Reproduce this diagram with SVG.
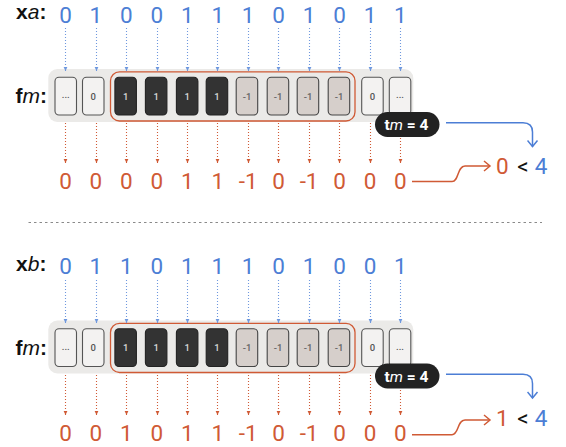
<svg xmlns="http://www.w3.org/2000/svg" width="566" height="447" viewBox="0 0 566 447">
<style>
.lbl{font-family:"Liberation Sans",Arial,sans-serif;font-size:21px;fill:#111}
.b{font-weight:bold}
.i{font-style:italic;font-weight:normal}
.dig{font-family:Roboto,"Liberation Sans",sans-serif;font-size:22.5px;text-anchor:middle}
.blue{fill:#4c7ed5}
.red{fill:#d05a35}
.blk{fill:#111}
.panel{fill:#ebeae8}
.box{fill:none;stroke:#d05a35;stroke-width:1.3}
.cl{fill:#f3f2f1;stroke:#555;stroke-width:1.1}
.cd{fill:#333;stroke:#222;stroke-width:1.1}
.cn{fill:#d6cfcb;stroke:#444;stroke-width:1.1}
.ct{font-family:Roboto,"Liberation Sans",sans-serif;font-size:9.5px;text-anchor:middle;font-weight:500}
.tl{fill:#555}
.tw{fill:#d8d8d8}
.tn{fill:#666}
.bl{stroke:#6f98de;stroke-width:1.1;stroke-dasharray:1 2;fill:none}
.rl{stroke:#d05a35;stroke-width:1.1;stroke-dasharray:1 2;fill:none}
.sep{stroke:#8a8a8a;stroke-dasharray:2.5 3;stroke-width:1}
.pill{fill:#222}
.pt{font-family:Roboto,"Liberation Sans",sans-serif;font-size:15.5px;fill:#fff;font-weight:bold}
.conb{stroke:#4c7ed5;stroke-width:1.5;fill:none}
.conr{stroke:#d05a35;stroke-width:1.5;fill:none}
</style>
<defs>
<marker id="ab" markerWidth="5" markerHeight="5" refX="4" refY="2.5" orient="auto" markerUnits="userSpaceOnUse"><path d="M0,0.6 L4,2.5 L0,4.4z" fill="#6f98de"/></marker>
<marker id="ar" markerWidth="5" markerHeight="5" refX="4" refY="2.5" orient="auto" markerUnits="userSpaceOnUse"><path d="M0,0.6 L4,2.5 L0,4.4z" fill="#d05a35"/></marker>
<marker id="cb" markerWidth="12" markerHeight="12" refX="9" refY="6" orient="auto" markerUnits="userSpaceOnUse"><path d="M3,1 L9,6 L3,11" fill="none" stroke="#4c7ed5" stroke-width="1.5"/></marker>
<marker id="cr" markerWidth="12" markerHeight="12" refX="9" refY="6" orient="auto" markerUnits="userSpaceOnUse"><path d="M3,1 L9,6 L3,11" fill="none" stroke="#d05a35" stroke-width="1.5"/></marker>
<g id="cells">
<rect x="48.3" y="69" width="365" height="53" rx="9" class="panel"/>
<rect x="110.5" y="71.8" width="244.5" height="49.2" rx="9" class="box"/>
<rect x="55" y="77.3" width="21.5" height="37.7" rx="4" class="cl"/><text x="65.8" y="98" class="ct tl">...</text>
<rect x="82.5" y="77.3" width="21.5" height="37.7" rx="4" class="cl"/><text x="93.3" y="99.5" class="ct tl">0</text>
<rect x="114.9" y="77.3" width="21.5" height="37.7" rx="4" class="cd"/><text x="125.7" y="99.5" class="ct tw">1</text>
<rect x="145.4" y="77.3" width="21.5" height="37.7" rx="4" class="cd"/><text x="156.2" y="99.5" class="ct tw">1</text>
<rect x="176.4" y="77.3" width="21.5" height="37.7" rx="4" class="cd"/><text x="187.2" y="99.5" class="ct tw">1</text>
<rect x="206.2" y="77.3" width="21.5" height="37.7" rx="4" class="cd"/><text x="217" y="99.5" class="ct tw">1</text>
<rect x="236.2" y="77.3" width="21.5" height="37.7" rx="4" class="cn"/><text x="247" y="99.5" class="ct tn">-1</text>
<rect x="267.2" y="77.3" width="21.5" height="37.7" rx="4" class="cn"/><text x="278" y="99.5" class="ct tn">-1</text>
<rect x="297.2" y="77.3" width="21.5" height="37.7" rx="4" class="cn"/><text x="308" y="99.5" class="ct tn">-1</text>
<rect x="328.2" y="77.3" width="21.5" height="37.7" rx="4" class="cn"/><text x="339" y="99.5" class="ct tn">-1</text>
<rect x="361.7" y="77.3" width="21.5" height="37.7" rx="4" class="cl"/><text x="372.5" y="99.5" class="ct tl">0</text>
<rect x="389.3" y="77.3" width="21.5" height="37.7" rx="4" class="cl"/><text x="400" y="98" class="ct tl">...</text>
</g>
<g id="vlines">
<path class="bl" marker-end="url(#ab)" d="M65.5,28V71"/><path class="bl" marker-end="url(#ab)" d="M96.5,28V71"/><path class="bl" marker-end="url(#ab)" d="M126.5,28V71"/><path class="bl" marker-end="url(#ab)" d="M157.5,28V71"/><path class="bl" marker-end="url(#ab)" d="M187.5,28V71"/><path class="bl" marker-end="url(#ab)" d="M217.5,28V71"/><path class="bl" marker-end="url(#ab)" d="M248.5,28V71"/><path class="bl" marker-end="url(#ab)" d="M278.5,28V71"/><path class="bl" marker-end="url(#ab)" d="M309.5,28V71"/><path class="bl" marker-end="url(#ab)" d="M339.5,28V71"/><path class="bl" marker-end="url(#ab)" d="M370.5,28V71"/><path class="bl" marker-end="url(#ab)" d="M400.5,28V71"/>
<path class="rl" marker-end="url(#ar)" d="M65.5,123V163"/><path class="rl" marker-end="url(#ar)" d="M96.5,123V163"/><path class="rl" marker-end="url(#ar)" d="M126.5,123V163"/><path class="rl" marker-end="url(#ar)" d="M157.5,123V163"/><path class="rl" marker-end="url(#ar)" d="M187.5,123V163"/><path class="rl" marker-end="url(#ar)" d="M217.5,123V163"/><path class="rl" marker-end="url(#ar)" d="M248.5,123V163"/><path class="rl" marker-end="url(#ar)" d="M278.5,123V163"/><path class="rl" marker-end="url(#ar)" d="M309.5,123V163"/><path class="rl" marker-end="url(#ar)" d="M339.5,123V163"/><path class="rl" marker-end="url(#ar)" d="M370.5,123V163"/><path class="rl" marker-end="url(#ar)" d="M400.5,123V163"/>
</g>
</defs>

<g id="half-a">
  <g id="label-xa"><text x="16" y="19" class="lbl"><tspan class="b">x</tspan><tspan class="i">a</tspan><tspan class="b">:</tspan></text></g>
  <g id="xa-values" class="dig blue">
    <text x="65.5" y="22.7">0</text><text x="95.95" y="22.7">1</text><text x="126.4" y="22.7">0</text><text x="156.85" y="22.7">0</text><text x="187.3" y="22.7">1</text><text x="217.75" y="22.7">1</text><text x="248.2" y="22.7">1</text><text x="278.65" y="22.7">0</text><text x="309.1" y="22.7">1</text><text x="339.55" y="22.7">0</text><text x="370" y="22.7">1</text><text x="400.45" y="22.7">1</text>
  </g>
  <g id="label-fm-a"><text x="15.5" y="103.3" class="lbl"><tspan class="b">f</tspan><tspan class="i">m</tspan><tspan class="b">:</tspan></text></g>
  <g id="fm-a"><use href="#cells"/></g>
  <g id="out-a" class="dig red">
    <text x="65.5" y="189.3">0</text><text x="95.95" y="189.3">0</text><text x="126.4" y="189.3">0</text><text x="156.85" y="189.3">0</text><text x="187.3" y="189.3">1</text><text x="217.75" y="189.3">1</text><text x="248.2" y="189.3">-1</text><text x="278.65" y="189.3">0</text><text x="309.1" y="189.3">-1</text><text x="339.55" y="189.3">0</text><text x="370" y="189.3">0</text><text x="400.45" y="189.3">0</text>
  </g>
  <g id="cmp-a" class="dig"><text x="502.4" y="174" class="red">0</text><text x="523" y="174" class="blk">&lt;</text><text x="541" y="174" class="blue">4</text></g>
</g>

<g id="half-b" transform="translate(0,251.5)">
  <g id="label-xb"><text x="16" y="19" class="lbl"><tspan class="b">x</tspan><tspan class="i">b</tspan><tspan class="b">:</tspan></text></g>
  <g id="xb-values" class="dig blue">
    <text x="65.5" y="22.7">0</text><text x="95.95" y="22.7">1</text><text x="126.4" y="22.7">1</text><text x="156.85" y="22.7">0</text><text x="187.3" y="22.7">1</text><text x="217.75" y="22.7">1</text><text x="248.2" y="22.7">1</text><text x="278.65" y="22.7">0</text><text x="309.1" y="22.7">1</text><text x="339.55" y="22.7">0</text><text x="370" y="22.7">0</text><text x="400.45" y="22.7">1</text>
  </g>
  <g id="label-fm-b"><text x="15.5" y="103.3" class="lbl"><tspan class="b">f</tspan><tspan class="i">m</tspan><tspan class="b">:</tspan></text></g>
  <g id="fm-b"><use href="#cells"/></g>
  <g id="out-b" class="dig red">
    <text x="65.5" y="189.3">0</text><text x="95.95" y="189.3">0</text><text x="126.4" y="189.3">1</text><text x="156.85" y="189.3">0</text><text x="187.3" y="189.3">1</text><text x="217.75" y="189.3">1</text><text x="248.2" y="189.3">-1</text><text x="278.65" y="189.3">0</text><text x="309.1" y="189.3">-1</text><text x="339.55" y="189.3">0</text><text x="370" y="189.3">0</text><text x="400.45" y="189.3">0</text>
  </g>
  <g id="cmp-b" class="dig"><text x="502.4" y="174" class="red">1</text><text x="523" y="174" class="blk">&lt;</text><text x="541" y="174" class="blue">4</text></g>
</g>

<g id="separator"><line x1="28.5" y1="222.5" x2="542" y2="222.5" class="sep"/></g>

<g id="connectors">
  <g id="conn-a">
    <use href="#vlines"/>
    <path class="conb" marker-end="url(#cb)" d="M446,122.7H523Q532.5,122.7 532.5,132V146.5"/>
    <path class="conr" marker-end="url(#cr)" d="M412,181.5H452C459,181.5 457,166 465,166H490"/>
  </g>
  <g id="conn-b" transform="translate(0,252)">
    <use href="#vlines"/>
    <path class="conb" marker-end="url(#cb)" d="M446,122.2H523Q532.5,122.2 532.5,131.5V146"/>
    <path class="conr" marker-end="url(#cr)" d="M412,182.7H452C459,182.7 457,168 465,168H490"/>
  </g>
</g>

<g id="tm-a"><rect x="375" y="112" width="64.5" height="25" rx="12.5" class="pill"/><text x="384.5" y="130" class="pt">t<tspan class="i">m</tspan> = 4</text></g>
<g id="tm-b" transform="translate(0,251.5)"><rect x="375" y="112" width="64.5" height="25" rx="12.5" class="pill"/><text x="384.5" y="130" class="pt">t<tspan class="i">m</tspan> = 4</text></g>
</svg>
